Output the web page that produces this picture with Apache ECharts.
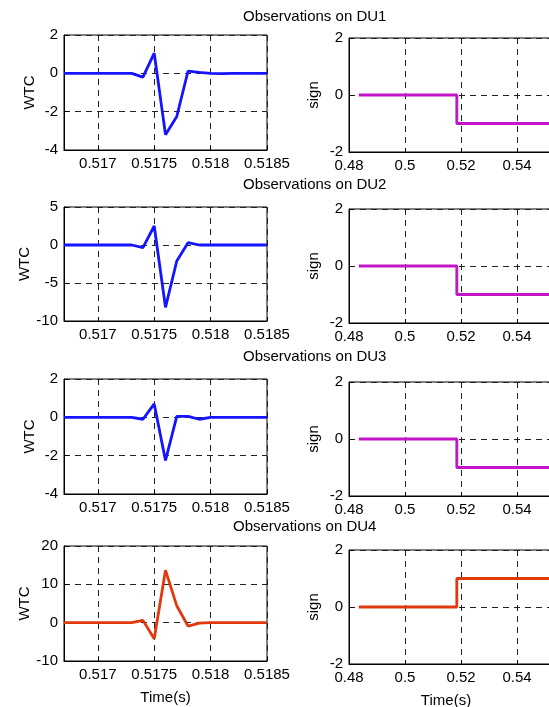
<!DOCTYPE html>
<html>
<head>
<meta charset="utf-8">
<script src="https://cdn.jsdelivr.net/npm/echarts@6/dist/echarts.min.js"></script>
<style>
html, body { margin: 0; padding: 0; background: #fff; overflow: hidden; }
#chart { width: 549px; height: 707px; }
</style>
</head>
<body>
<div id="chart"></div>
<script>
// time axis of the WTC panels (s)
var wtcTime = [0.5167, 0.5168, 0.5169, 0.5170, 0.5171, 0.5172, 0.5173, 0.5174, 0.5175, 0.5176,
	0.5177, 0.5178, 0.5179, 0.5180, 0.5181, 0.5182, 0.5183, 0.5184, 0.5185];
var wtcDU1 = [0, 0, 0, 0, 0, 0, 0, -0.2, 1.05, -3.2, -2.25, 0.12, 0.05, 0, -0.02, 0, 0, 0, 0];
var wtcDU2 = [0, 0, 0, 0, 0, 0, 0, -0.35, 2.5, -8.2, -2.1, 0.3, 0, 0, 0, 0, 0, 0, 0];
var wtcDU3 = [0, 0, 0, 0, 0, 0, 0, -0.1, 0.7, -2.25, 0.05, 0.05, -0.1, 0, 0, 0, 0, 0, 0];
var wtcDU4 = [0, 0, 0, 0, 0, 0, 0, 0.6, -4.2, 13.7, 4.4, -0.9, -0.1, 0, 0, 0, 0, 0, 0];
var wtcTicks = [0.517, 0.5175, 0.518, 0.5185];

// sign panels: step points
var signTime = [0.4835, 0.5185, 0.5185, 0.58];
var signDU1 = [0, 0, -1, -1];
var signDU2 = [0, 0, -1, -1];
var signDU3 = [0, 0, -1, -1];
var signDU4 = [0, 0, 1, 1];

var titles = ["Observations on DU1", "Observations on DU2", "Observations on DU3", "Observations on DU4"];

var BLUE = "#1414ff", MAGENTA = "#c414c8", RED = "#e2380e";
var FONT = "Liberation Sans";

function pairs(xs, ys) {
	var out = [];
	for (var i = 0; i < xs.length; i++) {
		out.push([xs[i], ys[i]]);
	}
	return out;
}

var panels = [
	{ lTop: 35, lH: 115, rTop: 38, rH: 114, yMin: -4, yMax: 2, yInt: 2, wtc: wtcDU1, sign: signDU1, wc: BLUE, sc: MAGENTA, tLeft: 243, tTop: 9 },
	{ lTop: 207, lH: 114, rTop: 209, rH: 114, yMin: -10, yMax: 5, yInt: 5, wtc: wtcDU2, sign: signDU2, wc: BLUE, sc: MAGENTA, tLeft: 243, tTop: 177 },
	{ lTop: 379, lH: 115, rTop: 382, rH: 114, yMin: -4, yMax: 2, yInt: 2, wtc: wtcDU3, sign: signDU3, wc: BLUE, sc: MAGENTA, tLeft: 243, tTop: 349 },
	{ lTop: 546, lH: 115, rTop: 550, rH: 114, yMin: -10, yMax: 20, yInt: 10, wtc: wtcDU4, sign: signDU4, wc: RED, sc: RED, tLeft: 233, tTop: 519 }
];

var dashLine = { show: true, lineStyle: { color: "#222", width: 1, type: [6, 5] } };
var axLine = { show: true, onZero: false, lineStyle: { color: "#000", width: 1 } };
var lab = { color: "#000", fontSize: 15, fontFamily: FONT, margin: 6 };

var option = {
	animation: false,
	backgroundColor: "#fff",
	title: [], grid: [], xAxis: [], yAxis: [], series: []
};

for (var i = 0; i < panels.length; i++) {
	var p = panels[i];
	var last = (i == panels.length - 1);
	option.title.push({
		text: titles[i], left: p.tLeft, top: p.tTop, padding: 0,
		textStyle: { fontSize: 15, fontWeight: "normal", color: "#000", fontFamily: FONT }
	});
	// left: WTC
	option.grid.push({ left: 64, width: 203, top: p.lTop, height: p.lH, outerBoundsMode: "none", containLabel: false,
		show: true, borderColor: "#000", borderWidth: 1, backgroundColor: "#fff" });
	// right: sign (runs past the window edge)
	option.grid.push({ left: 349, width: 224, top: p.rTop, height: p.rH, outerBoundsMode: "none", containLabel: false,
		show: true, borderColor: "#000", borderWidth: 1, backgroundColor: "#fff" });

	option.xAxis.push({
		type: "value", gridIndex: 2 * i, min: 0.5167, max: 0.5185,
		axisLine: axLine,
		axisTick: { show: true, inside: true, length: 4, customValues: wtcTicks, lineStyle: { color: "#000" } },
		axisLabel: { color: "#000", fontSize: 15, fontFamily: FONT, margin: 6, customValues: wtcTicks },
		splitLine: dashLine,
		name: last ? "Time(s)" : "", nameLocation: "middle", nameGap: 29,
		nameTextStyle: { color: "#000", fontSize: 15, fontFamily: FONT }
	});
	option.xAxis.push({
		type: "value", gridIndex: 2 * i + 1, min: 0.48, max: 0.56, interval: 0.02,
		axisLine: axLine,
		axisTick: { show: true, inside: true, length: 4, lineStyle: { color: "#000" } },
		axisLabel: lab,
		splitLine: dashLine,
		name: last ? "Time(s)" : "", nameLocation: "middle", nameGap: 29,
		nameTextStyle: { color: "#000", fontSize: 15, fontFamily: FONT, padding: [0, 0, 0, -30] }
	});
	option.yAxis.push({
		type: "value", gridIndex: 2 * i, min: p.yMin, max: p.yMax, interval: p.yInt,
		axisLine: axLine,
		axisTick: { show: true, inside: true, length: 4, lineStyle: { color: "#000" } },
		axisLabel: lab,
		splitLine: dashLine,
		name: "WTC", nameLocation: "middle", nameGap: 27, nameRotate: 90,
		nameTextStyle: { color: "#000", fontSize: 15, fontFamily: FONT }
	});
	option.yAxis.push({
		type: "value", gridIndex: 2 * i + 1, min: -2, max: 2, interval: 2,
		axisLine: axLine,
		axisTick: { show: true, inside: true, length: 4, lineStyle: { color: "#000" } },
		axisLabel: lab,
		splitLine: dashLine,
		name: "sign", nameLocation: "middle", nameGap: 28, nameRotate: 90,
		nameTextStyle: { color: "#000", fontSize: 15, fontFamily: FONT }
	});

	option.series.push({
		type: "line", xAxisIndex: 2 * i, yAxisIndex: 2 * i, data: pairs(wtcTime, p.wtc),
		showSymbol: false, lineStyle: { color: p.wc, width: 2.8 }, z: 5
	});
	option.series.push({
		type: "line", xAxisIndex: 2 * i + 1, yAxisIndex: 2 * i + 1, data: pairs(signTime, p.sign),
		showSymbol: false, lineStyle: { color: p.sc, width: 2.8 }, z: 5
	});
}

var myChart = echarts.init(document.getElementById("chart"), null, { renderer: "canvas" });
myChart.setOption(option);
</script>
</body>
</html>
